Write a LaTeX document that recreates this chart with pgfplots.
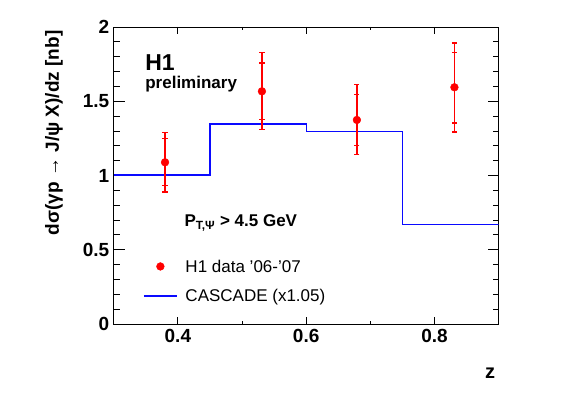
\documentclass[border=0pt]{standalone}
\usepackage{pgfplots}
\pgfplotsset{compat=1.18}
\usepackage{fontspec}
\setmainfont{Liberation Sans}
\definecolor{hred}{RGB}{255,0,0}
\definecolor{hblue}{RGB}{10,10,255}
\newcommand{\lstrut}{\rule[-4pt]{0pt}{17pt}}
\begin{document}
\begin{tikzpicture}
\path[use as bounding box] (0,0) rectangle (567pt,395pt);
\begin{axis}[
  at={(113.7pt,71pt)}, anchor=south west,
  scale only axis, width=385pt, height=297pt,
  xmin=0.3, xmax=0.9, ymin=0, ymax=2,
  xtick={0.4,0.6,0.8}, minor xtick={0.5,0.7},
  ytick={0,0.5,1,1.5,2}, minor y tick num=4,
  major tick length=11pt, minor tick length=6pt,
  xtick style={/pgfplots/major tick length=7pt, /pgfplots/minor tick length=3pt},
  tick style={black, line width=0.8pt},
  axis line style={line width=0.9pt},
  /pgf/number format/assume math mode=true,
  tick label style={font=\bfseries\fontsize{19}{19}\selectfont},
  xticklabel style={yshift=-2pt},
  yticklabel style={xshift=-1pt},
  ylabel={dσ(γp → J/ψ X)/dz [nb]},
  ylabel style={at={(axis description cs:-0.155,1)}, anchor=east, font=\bfseries\fontsize{19}{19}\selectfont},
  xlabel={z},
  xlabel style={at={(axis description cs:1,-0.182)}, anchor=base east, font=\bfseries\fontsize{20}{20}\selectfont},
  legend style={at={(rel axis cs:0.0761,0.2256)}, anchor=north west, draw=none, fill=none,
    inner sep=0pt, row sep=11pt,
    font=\fontsize{17}{17}\selectfont},
  legend cell align=left,
]
% CASCADE histogram
\addplot[const plot mark left, draw=hblue, line width=1.3pt, forget plot] coordinates {
  (0.30,1.003) (0.45,1.347) (0.60,1.295) (0.75,0.671) (0.90,0.671)};
% total errors
\addplot[only marks, mark=none, color=hred, forget plot,
  error bars/.cd, y dir=both, y explicit,
  error bar style={line width=1.7pt, draw=hred},
  error mark options={draw=hred, line width=1.3pt, mark size=2.6pt, rotate=90}]
  coordinates {
  (0.380,1.089) += (0,0.202) -= (0,0.200)
  (0.531,1.567) += (0,0.263) -= (0,0.259)
  (0.679,1.374) += (0,0.237) -= (0,0.234)
  (0.831,1.594) += (0,0.298) -= (0,0.301)};
% stat errors
\addplot[only marks, mark=*, mark size=3.9pt, color=hred, fill=hred, forget plot,
  error bars/.cd, y dir=both, y explicit,
  error bar style={line width=1.7pt, draw=hred},
  error mark options={draw=hred, line width=1.3pt, mark size=2.6pt, rotate=90}]
  coordinates {
  (0.380,1.089) += (0,0.159) -= (0,0.158)
  (0.531,1.567) += (0,0.191) -= (0,0.191)
  (0.679,1.374) += (0,0.170) -= (0,0.173)
  (0.831,1.594) += (0,0.236) -= (0,0.240)};
\addlegendimage{only marks, mark=*, mark size=3.9pt, color=hred, fill=hred, legend image post style={xshift=8pt}}
\addlegendentry{\lstrut\hspace*{6pt}H1 data '06-'07}
\addlegendimage{draw=hblue, line width=1.3pt, legend image post style={xscale=1.933}}
\addlegendentry{\lstrut\hspace*{6pt}CASCADE (x1.05)}
\node[anchor=base west, font=\bfseries\fontsize{23}{23}\selectfont] at (rel axis cs:0.073,0.855) {H1};
\node[anchor=base west, font=\bfseries\fontsize{17}{17}\selectfont] at (rel axis cs:0.073,0.794) {preliminary};
\node[anchor=base west, font=\bfseries\fontsize{17}{17}\selectfont] at (rel axis cs:0.175,0.3276) {P\textsubscript{T,Ψ} > 4.5 GeV};
\end{axis}
\end{tikzpicture}
\end{document}
